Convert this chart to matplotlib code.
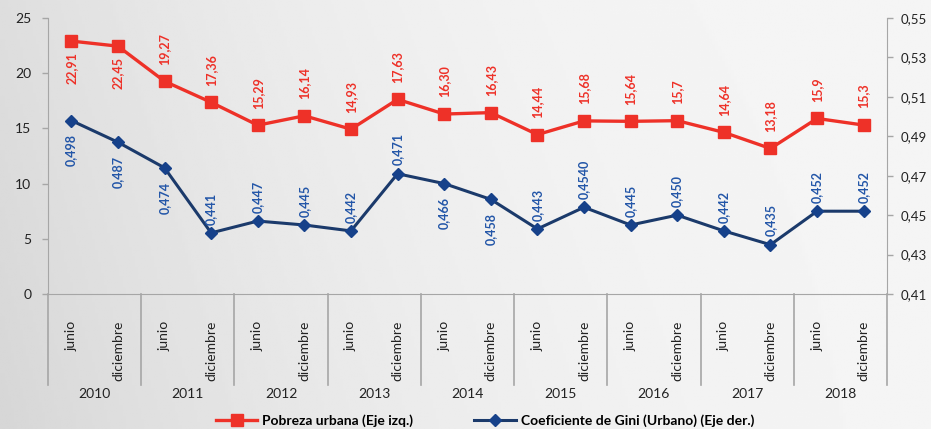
import matplotlib
matplotlib.use("Agg")
import matplotlib.pyplot as plt
import numpy as np

plt.rcParams['font.family'] = ['Lato', 'DejaVu Sans']

years = ['2010', '2011', '2012', '2013', '2014', '2015', '2016', '2017', '2018']
semesters = ['junio', 'diciembre']

pobreza = [22.91, 22.45, 19.27, 17.36, 15.29, 16.14, 14.93, 17.63, 16.30,
           16.43, 14.44, 15.68, 15.64, 15.7, 14.64, 13.18, 15.9, 15.3]
pobreza_lbl = ['22,91', '22,45', '19,27', '17,36', '15,29', '16,14', '14,93', '17,63', '16,30',
               '16,43', '14,44', '15,68', '15,64', '15,7', '14,64', '13,18', '15,9', '15,3']
gini = [0.498, 0.487, 0.474, 0.441, 0.447, 0.445, 0.442, 0.471, 0.466,
        0.458, 0.443, 0.4540, 0.445, 0.450, 0.442, 0.435, 0.452, 0.452]
gini_lbl = ['0,498', '0,487', '0,474', '0,441', '0,447', '0,445', '0,442', '0,471', '0,466',
            '0,458', '0,443', '0,4540', '0,445', '0,450', '0,442', '0,435', '0,452', '0,452']

# which labels sit below their point
pob_below = [0, 1]
gini_below = [0, 1, 2, 8, 9]

red = '#EE3128'
navy = '#1B3A6B'
navy_mk = '#16418A'
blue_txt = '#2356A8'
axis_c = '#A6A6A6'

fig = plt.figure(figsize=(9.31, 4.29), dpi=100)

# background gradient
bg = fig.add_axes([0, 0, 1, 1], zorder=-10)
gx = np.linspace(0, 1, 300)
gy = np.linspace(0, 1, 150)
X, Y = np.meshgrid(gx, gy)
G = 0.96 - 0.09 * (1 - X) ** 2.5 - 0.03 * Y * (1 - X)
bg.imshow(G, cmap='gray', vmin=0, vmax=1, aspect='auto', extent=[0, 1, 0, 1], origin='upper')
bg.axis('off')

ax = fig.add_axes([48 / 931, 1 - 294 / 429, (887 - 48) / 931, 276 / 429])
ax.set_facecolor('none')
ax2 = ax.twinx()

n = len(pobreza)
x = np.arange(n)

l1, = ax.plot(x, pobreza, color=red, lw=2.4, marker='s', ms=8.5, mfc=red, mec=red,
              label='Pobreza urbana (Eje izq.)', zorder=3)
l2, = ax2.plot(x, gini, color=navy, lw=2.2, marker='D', ms=6.5, mfc=navy_mk, mec=navy_mk,
               label='Coeficiente de Gini (Urbano) (Eje der.)', zorder=3)

for i in range(n):
    if i in pob_below:
        ax.annotate(pobreza_lbl[i], (x[i], pobreza[i]), xytext=(0, -8), textcoords='offset points',
                    rotation=90, ha='center', va='top', color=red, fontsize=9, fontweight='bold')
    else:
        ax.annotate(pobreza_lbl[i], (x[i], pobreza[i]), xytext=(0, 12), textcoords='offset points',
                    rotation=90, ha='center', va='bottom', color=red, fontsize=9, fontweight='bold')
    if i in gini_below:
        ax2.annotate(gini_lbl[i], (x[i], gini[i]), xytext=(0, -10), textcoords='offset points',
                     rotation=90, ha='center', va='top', color=blue_txt, fontsize=9, fontweight='bold')
    else:
        ax2.annotate(gini_lbl[i], (x[i], gini[i]), xytext=(0, 6), textcoords='offset points',
                     rotation=90, ha='center', va='bottom', color=blue_txt, fontsize=9, fontweight='bold')

ax.set_xlim(-0.5, n - 0.5)
ax.set_ylim(0, 25)
ax.set_yticks(np.arange(0, 26, 5))
ax2.set_ylim(0.41, 0.55)
ax2.set_yticks(np.arange(0.41, 0.551, 0.02))
ax2.set_yticklabels(['{:.2f}'.format(v).replace('.', ',') for v in np.arange(0.41, 0.551, 0.02)])

for a in (ax, ax2):
    for s in a.spines.values():
        s.set_visible(False)
    a.tick_params(axis='y', length=4, width=1, color=axis_c, labelsize=10, labelcolor='#222222', pad=8)
ax2.spines['right'].set_visible(True)
ax2.spines['right'].set_color(axis_c)
ax.spines['left'].set_visible(True)
ax.spines['left'].set_color(axis_c)
ax.spines['bottom'].set_visible(True)
ax.spines['bottom'].set_color(axis_c)
ax2.tick_params(axis='y', pad=6, labelsize=9.5)

# category labels
ax.set_xticks(x)
ax.set_xticklabels([semesters[i % 2] for i in range(n)], rotation=90, fontsize=10, color='#222222')
ax.tick_params(axis='x', length=0, pad=19)
for t in ax.get_xticklabels():
    t.set_va('top')

# year group labels and separators
tr = ax.get_xaxis_transform()
drop = -91 / 276
for k, yr in enumerate(years):
    ax.text(2 * k + 0.5, -100 / 276, yr, transform=tr, ha='center', va='center',
            fontsize=10, color='#222222')
for k in range(len(years) + 1):
    ax.plot([2 * k - 0.5, 2 * k - 0.5], [0, drop], transform=tr, color=axis_c, lw=1.2, clip_on=False)

fig.legend(handles=[l1, l2], loc='center', bbox_to_anchor=(485 / 931, 1 - 421 / 429), ncol=2,
           frameon=False, prop={'weight': 'bold', 'size': 10}, handlelength=3.0, columnspacing=4.4,
           handletextpad=0.35)

fig.savefig('out.png', dpi=100)
